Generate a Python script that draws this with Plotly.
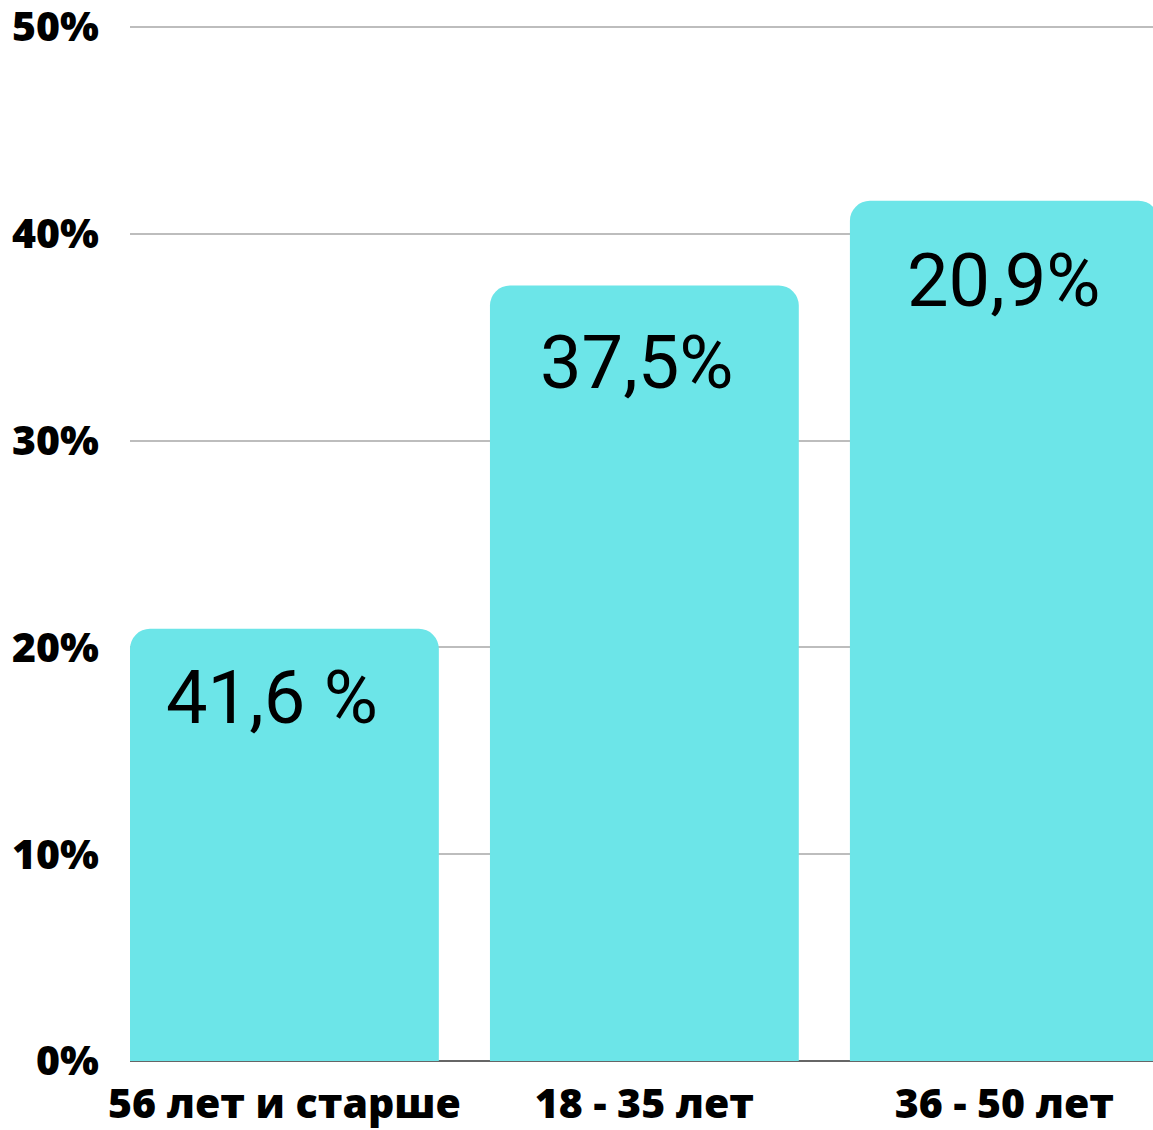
import plotly.graph_objects as go

categories = ["56 лет и старше", "18 - 35 лет", "36 - 50 лет"]
values = [20.9, 37.5, 41.6]
bar_labels = ["41,6 %", "37,5%", "20,9%"]
y_ticks = [0, 10, 20, 30, 40, 50]

label_xshift = [-12, -7, 0]
label_yshift = [-69, -77, -80]

fig = go.Figure()
fig.add_trace(go.Bar(
    x=[0, 1, 2],
    y=values,
    width=0.858,
    marker=dict(color="#6ce5e8", line=dict(width=0)),
    hoverinfo="skip",
))

for i, (v, t) in enumerate(zip(values, bar_labels)):
    fig.add_annotation(
        x=i, y=v, text=t, showarrow=False,
        xanchor="center", yanchor="middle",
        yshift=label_yshift[i], xshift=label_xshift[i],
        font=dict(family="Roboto", size=74, color="#000000", weight=400),
    )

fig.update_layout(
    width=1153, height=1130,
    margin=dict(l=130, r=0, t=25, b=69, autoexpand=False),
    paper_bgcolor="white", plot_bgcolor="white",
    barcornerradius=20,
    showlegend=False,
    xaxis=dict(
        range=[-0.429, 2.413],
        tickmode="array", tickvals=[0, 1, 2], ticktext=categories,
        showgrid=False, showline=False, zeroline=False,
        tickfont=dict(family="Open Sans", size=41, color="#000000", weight=800),
        ticklabelstandoff=15, automargin=False, ticklabeloverflow="allow",
    ),
    yaxis=dict(
        range=[0, 50.1],
        tickmode="array", tickvals=y_ticks,
        ticktext=[f"{t}%" for t in y_ticks],
        showgrid=True, gridcolor="#bdbdbd", gridwidth=2,
        zeroline=True, zerolinecolor="#666666", zerolinewidth=2,
        showline=False,
        tickfont=dict(family="Open Sans", size=41, color="#000000", weight=800),
        ticklabelstandoff=30, automargin=False, ticklabeloverflow="allow",
    ),
)

fig.write_html(
    "out.html",
    config={"displayModeBar": False},
    post_script="document.body.style.margin='0';document.body.style.overflow='hidden';",
)
